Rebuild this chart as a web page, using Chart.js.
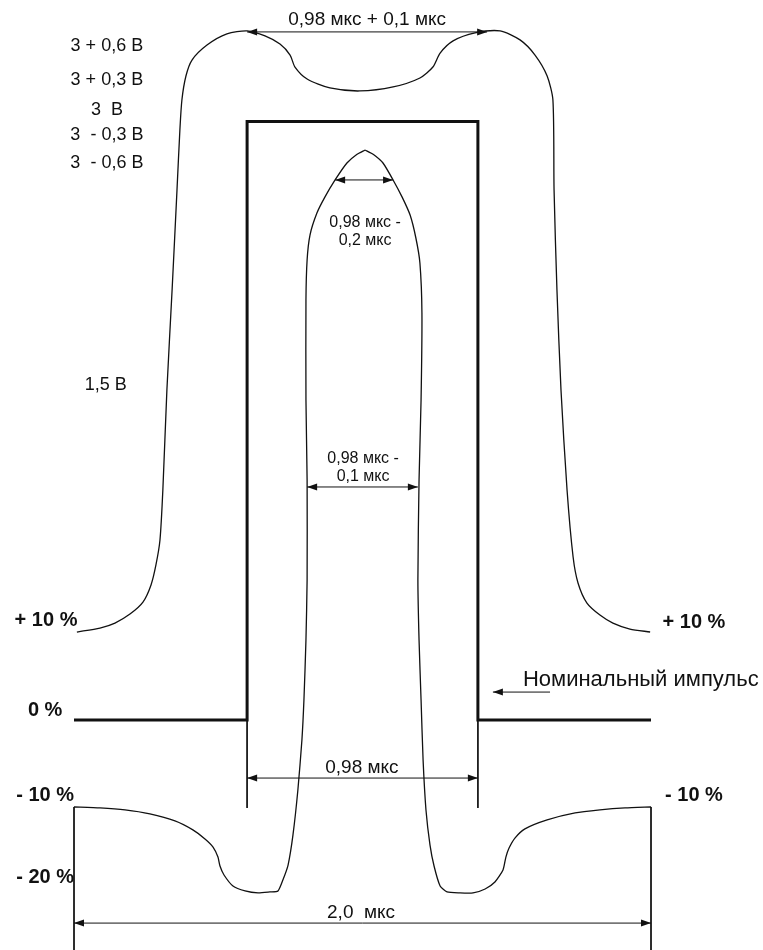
<!DOCTYPE html>
<html>
<head>
<meta charset="utf-8">
<script src="https://cdn.jsdelivr.net/npm/chart.js@4.4.1/dist/chart.umd.min.js"></script>
<style>
  html, body { margin: 0; padding: 0; background: #fff; }
  #grafico { display: block; }
</style>
</head>
<body>
<canvas id="grafico" width="763" height="950"></canvas>
<script>
// x: время, мкс; y: уровень, В
const nominalX = [0, 0.6, 0.6, 1.4, 1.4, 2.0];
const nominalY = [0, 0, 3, 3, 0, 0];

// верхняя граница маски (от +10 % слева до +10 % справа)
const upperX = [0.010, 0.090, 0.142, 0.194, 0.239, 0.267, 0.284, 0.298, 0.308, 0.322, 0.340, 0.357, 0.367, 0.374, 0.388, 0.409, 0.461, 0.530, 0.600,
  0.662, 0.714, 0.749, 0.766, 0.808, 0.887, 0.991, 1.106, 1.199, 1.244, 1.269, 1.314, 1.390, 1.477,
  1.546, 1.598, 1.640, 1.660, 1.664, 1.674, 1.688, 1.709, 1.730, 1.747, 1.778, 1.823, 1.868, 1.927, 1.997];
const upperY = [0.441, 0.461, 0.486, 0.531, 0.591, 0.677, 0.777, 0.902, 1.153, 1.654, 2.155, 2.657, 2.957, 3.108, 3.228, 3.308, 3.383, 3.439, 3.454,
  3.429, 3.388, 3.333, 3.273, 3.213, 3.168, 3.153, 3.173, 3.218, 3.273, 3.343, 3.404, 3.444, 3.454,
  3.409, 3.333, 3.228, 3.108, 2.657, 2.155, 1.654, 1.153, 0.817, 0.687, 0.586, 0.526, 0.486, 0.456, 0.441];

// нижняя граница маски: левая ветвь до острия узкого импульса
const lowerLeftX = [0, 0.090, 0.177, 0.263, 0.350, 0.412, 0.454, 0.482, 0.499, 0.506, 0.520, 0.551, 0.593, 0.638, 0.679, 0.707,
  0.724, 0.742, 0.759, 0.776, 0.790, 0.797, 0.804, 0.808, 0.808, 0.804, 0.804, 0.808, 0.818, 0.842, 0.870, 0.905, 0.946, 0.980, 1.009];
const lowerLeftY = [-0.436, -0.441, -0.451, -0.471, -0.506, -0.551, -0.596, -0.637, -0.687, -0.732, -0.777, -0.832, -0.857, -0.867, -0.862, -0.857,
  -0.802, -0.727, -0.576, -0.351, -0.100, 0.100, 0.401, 0.702, 1.203, 1.604, 2.105, 2.306, 2.431, 2.541, 2.622, 2.707, 2.792, 2.835, 2.857];

// правая ветвь от острия до -10 % справа
const lowerRightX = [1.009, 1.038, 1.071, 1.106, 1.137, 1.165, 1.185, 1.199, 1.206, 1.203, 1.196, 1.192, 1.196, 1.203, 1.210, 1.220, 1.234, 1.248, 1.269, 1.293,
  1.338, 1.383, 1.425, 1.459, 1.487, 1.497, 1.508, 1.529, 1.563, 1.640, 1.737, 1.823, 1.910, 2.0];
const lowerRightY = [2.857, 2.835, 2.792, 2.707, 2.622, 2.531, 2.416, 2.291, 2.040, 1.604, 1.203, 0.702, 0.401, 0.100, -0.201, -0.451, -0.627, -0.732, -0.832, -0.862,
  -0.867, -0.867, -0.847, -0.812, -0.752, -0.687, -0.642, -0.591, -0.546, -0.501, -0.466, -0.451, -0.441, -0.436];

// выносные линии
const extX = [0, 2.0, 0.6, 1.4];
const extTop = [-0.436, -0.436, 0, 0];
const extBottom = [-1.16, -1.16, -0.441, -0.441];

// размерные линии
const dimFrom = [0.6, 0.905, 0.808, 0.6, 0];
const dimTo = [1.432, 1.106, 1.192, 1.4, 2.0];
const dimLevel = [3.449, 2.707, 1.168, -0.291, -1.018];

// стрелка к надписи "Номинальный импульс"
const noteArrowX = [1.452, 1.650];
const noteArrowY = [0.140, 0.140];

const labelText = ['3 + 0,6 В', '3 + 0,3 В', '3  В', '3  - 0,3 В', '3  - 0,6 В', '1,5 В'];
const labelX = [0.114, 0.114, 0.114, 0.114, 0.114, 0.110];
const labelY = [3.378, 3.208, 3.058, 2.932, 2.792, 1.679];

const percentText = ['+ 10 %', '0 %', '- 10 %', '- 20 %', '+ 10 %', '- 10 %'];
const percentX = [-0.097, -0.100, -0.100, -0.100, 2.149, 2.149];
const percentY = [0.501, 0.050, -0.376, -0.787, 0.491, -0.376];

const dimText = [['0,98 мкс + 0,1 мкс'], ['0,98 мкс -', '0,2 мкс'], ['0,98 мкс -', '0,1 мкс'], ['0,98 мкс'], ['2,0  мкс']];
const dimTextX = [1.016, 1.009, 1.002, 0.998, 0.995];
const dimTextY = [3.509, 2.491, 1.308, -0.241, -0.967];
const dimTextSize = [19, 16, 16, 19, 19];

const ink = '#111';
const fonte = '"Liberation Sans", Arial, sans-serif';

function pontos(xs, ys) {
  return xs.map((x, i) => ({ x: x, y: ys[i] }));
}

function linha(data, largura, tensao) {
  return {
    data: data,
    showLine: true,
    borderColor: ink,
    borderWidth: largura,
    pointRadius: 0,
    tension: tensao,
    fill: false
  };
}

const datasets = [
  linha(pontos(upperX, upperY), 1.3, 0.25),
  linha(pontos(lowerLeftX, lowerLeftY), 1.3, 0.2),
  linha(pontos(lowerRightX, lowerRightY), 1.3, 0.2),
  linha(pontos(nominalX, nominalY), 3, 0)
];
extX.forEach((x, i) => {
  datasets.push(linha([{ x: x, y: extTop[i] }, { x: x, y: extBottom[i] }], 1, 0));
});
dimFrom.forEach((x, i) => {
  datasets.push(linha([{ x: x, y: dimLevel[i] }, { x: dimTo[i], y: dimLevel[i] }], 1, 0));
});
datasets.push(linha(pontos(noteArrowX, noteArrowY), 1, 0));

function seta(ctx, px, py, dir) {
  ctx.beginPath();
  ctx.moveTo(px, py);
  ctx.lineTo(px - dir * 10, py - 3.5);
  ctx.lineTo(px - dir * 10, py + 3.5);
  ctx.closePath();
  ctx.fill();
}

const anotacoes = {
  id: 'anotacoes',
  afterDatasetsDraw(chart) {
    const ctx = chart.ctx;
    const sx = chart.scales.x;
    const sy = chart.scales.y;
    ctx.save();
    ctx.fillStyle = ink;

    dimFrom.forEach((x, i) => {
      const py = sy.getPixelForValue(dimLevel[i]);
      seta(ctx, sx.getPixelForValue(x), py, -1);
      seta(ctx, sx.getPixelForValue(dimTo[i]), py, 1);
    });
    seta(ctx, sx.getPixelForValue(noteArrowX[0]), sy.getPixelForValue(noteArrowY[0]), -1);

    ctx.textBaseline = 'middle';
    ctx.textAlign = 'center';
    ctx.font = '18px ' + fonte;
    labelText.forEach((t, i) => {
      ctx.fillText(t, sx.getPixelForValue(labelX[i]), sy.getPixelForValue(labelY[i]));
    });

    ctx.font = 'bold 20px ' + fonte;
    percentText.forEach((t, i) => {
      ctx.fillText(t, sx.getPixelForValue(percentX[i]), sy.getPixelForValue(percentY[i]));
    });

    dimText.forEach((linhas, i) => {
      ctx.font = dimTextSize[i] + 'px ' + fonte;
      const px = sx.getPixelForValue(dimTextX[i]);
      const py = sy.getPixelForValue(dimTextY[i]);
      linhas.forEach((t, k) => {
        ctx.fillText(t, px, py + k * 18);
      });
    });

    ctx.textAlign = 'left';
    ctx.font = '22px ' + fonte;
    ctx.fillText('Номинальный импульс', sx.getPixelForValue(1.556), sy.getPixelForValue(0.200));
    ctx.restore();
  }
};

const ctx = document.getElementById('grafico').getContext('2d');
const myChart = new Chart(ctx, {
  type: 'scatter',
  data: { datasets: datasets },
  options: {
    responsive: false,
    animation: false,
    layout: { padding: 0 },
    scales: {
      x: { type: 'linear', min: -0.2565, max: 2.3882, display: false },
      y: { type: 'linear', min: -1.1529, max: 3.609, display: false }
    },
    plugins: {
      legend: { display: false },
      tooltip: { enabled: false }
    }
  },
  plugins: [anotacoes]
});
</script>
</body>
</html>
